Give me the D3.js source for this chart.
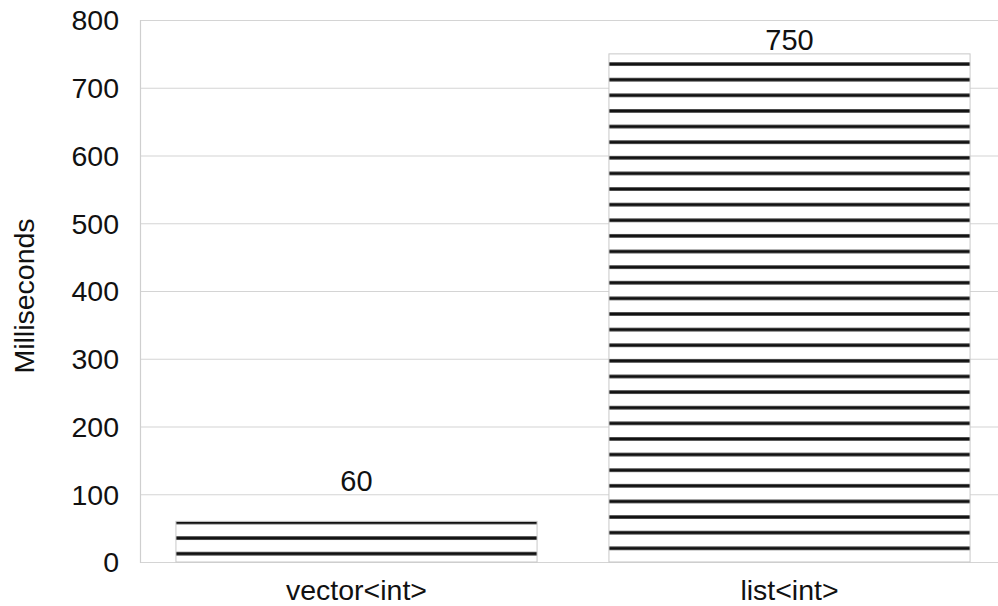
<!DOCTYPE html>
<html>
<head>
<meta charset="utf-8">
<script src="https://cdn.jsdelivr.net/npm/d3@7"></script>
<style>
html,body{margin:0;padding:0;background:#fff;}
svg{display:block;}
text{font-family:"Liberation Sans",Arial,Helvetica,sans-serif;fill:#111;}
</style>
</head>
<body>
<svg id="chart" width="998" height="606"></svg>
<script>
const categories = ["vector<int>", "list<int>"];
const values = [60, 750];
const yTicks = [0, 100, 200, 300, 400, 500, 600, 700, 800];
const yLabel = "Milliseconds";

const W = 998, H = 606;
const m = {left: 140, top: 20, bottom: 44};
const svg = d3.select("#chart");

const x = d3.scaleBand().domain(categories).range([m.left, 1006])
  .paddingInner(0.166).paddingOuter(0.083);
const y = d3.scaleLinear().domain([0, 800]).range([H - m.bottom, m.top]);

// gridlines
svg.append("g").selectAll("line").data(yTicks).join("line")
  .attr("x1", m.left).attr("x2", W)
  .attr("y1", d => y(d) + 0.5).attr("y2", d => y(d) + 0.5)
  .attr("stroke", "#d4d4d4").attr("stroke-width", 1.2);

// y axis line
svg.append("line").attr("x1", m.left + 0.5).attr("x2", m.left + 0.5)
  .attr("y1", y(800)).attr("y2", y(0) + 1)
  .attr("stroke", "#cfcfcf").attr("stroke-width", 1.2);

// tick labels
svg.append("g").selectAll("text").data(yTicks).join("text")
  .attr("x", 119).attr("y", d => y(d)).attr("dy", "0.36em")
  .attr("text-anchor", "end").attr("font-size", 28.5)
  .text(d => d);

// y label
svg.append("text")
  .attr("transform", `translate(34,${(y(0) + y(800)) / 2 + 5}) rotate(-90)`)
  .attr("text-anchor", "middle").attr("font-size", 28.5)
  .text(yLabel);

// stripe patterns (styling only)
const stripeGap = 15.62;
const stripeBottom = [8.3, 13.7];
const defs = svg.append("defs");
categories.forEach((c, i) => {
  const lineY = y(0) - stripeBottom[i];
  const p = defs.append("pattern").attr("id", "stripes" + i)
    .attr("patternUnits", "userSpaceOnUse")
    .attr("x", 0).attr("y", lineY - stripeGap / 2)
    .attr("width", W).attr("height", stripeGap);
  p.append("rect").attr("width", W).attr("height", stripeGap).attr("fill", "#fff");
  p.append("line").attr("x1", 0).attr("x2", W)
    .attr("y1", stripeGap / 2).attr("y2", stripeGap / 2)
    .attr("stroke", "#111").attr("stroke-width", 3.2);
});

const data = categories.map((c, i) => ({c, v: values[i], i}));

svg.append("g").selectAll("rect").data(data).join("rect")
  .attr("x", d => x(d.c)).attr("width", x.bandwidth())
  .attr("y", d => y(d.v)).attr("height", d => y(0) - y(d.v))
  .attr("fill", d => `url(#stripes${d.i})`)
  .attr("stroke", "#c8c8c8").attr("stroke-width", 1);

// value labels
svg.append("g").selectAll("text").data(data).join("text")
  .attr("x", d => x(d.c) + x.bandwidth() / 2)
  .attr("y", d => y(d.v) - (d.v < 100 ? 30 : 4))
  .attr("text-anchor", "middle").attr("font-size", 29)
  .text(d => d.v);

// category labels
svg.append("g").selectAll("text").data(categories).join("text")
  .attr("x", d => x(d) + x.bandwidth() / 2)
  .attr("y", 600)
  .attr("text-anchor", "middle").attr("font-size", 28.5)
  .text(d => d);
</script>
</body>
</html>
